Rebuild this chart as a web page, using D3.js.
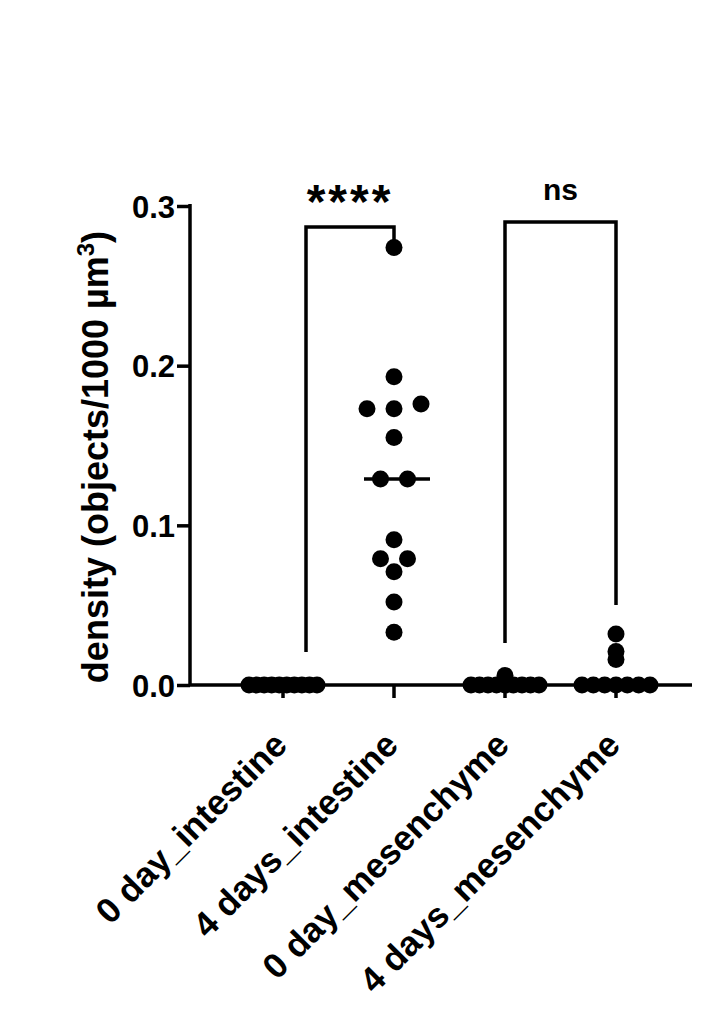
<!DOCTYPE html><html><head><script src="https://cdn.jsdelivr.net/npm/d3@7"></script>
<style>body{margin:0;background:#fff}text{font-family:Arial,"Liberation Sans",sans-serif;font-weight:bold}</style></head><body>
<svg id="c" width="718" height="1021"></svg>
<script>
const categories=["0 day_intestine","4 days_intestine","0 day_mesenchyme","4 days_mesenchyme"];
const g0=[0,0,0,0,0,0,0,0,0,0];
const g1=[0.274,0.193,0.173,0.173,0.176,0.155,0.129,0.129,0.091,0.079,0.079,0.071,0.052,0.033];
const g2=[0.006,0,0,0,0,0,0,0,0,0];
const g3=[0.032,0.021,0.016,0,0,0,0,0,0,0];
const series=[g0,g1,g2,g3];
const medians=[0,0.129,0,0];
const yTicks=[0,0.1,0.2,0.3];
const sig=[["****",0,1],["ns",2,3]];

const svg=d3.select("#c");
const y=d3.scaleLinear().domain([0,0.3]).range([685,206]);
const x=d3.scaleBand().domain(categories).range([227.5,671.5]);
const cx=c=>x(c)+x.bandwidth()/2;
const r=8.5;
const ya=svg.append("g").attr("transform","translate(190,0)").call(d3.axisLeft(y).tickValues(yTicks).tickFormat(d3.format(".1f")).tickSize(13).tickSizeOuter(0));
ya.select(".domain").attr("stroke-width",3.5).attr("d","M0,685V204");
ya.selectAll(".tick line").attr("stroke-width",3.5);
ya.selectAll(".tick text").attr("font-size",31).attr("font-family","Arial").attr("font-weight","bold").attr("x",-15).attr("dy","0.36em").attr("fill","#000");
const xa=svg.append("g").attr("transform","translate(0,685)").call(d3.axisBottom(x).tickSize(13).tickSizeOuter(0));
xa.select(".domain").attr("stroke-width",3.5).attr("d","M190,0H692");
xa.selectAll(".tick line").attr("stroke-width",3.5);
xa.selectAll(".tick text").attr("font-size",35).attr("font-family","Arial").attr("font-weight","bold").attr("fill","#000")
 .attr("text-anchor","end").attr("dy",0).attr("y",0).attr("transform","translate(6,62) rotate(-45)");
svg.append("text").attr("transform","translate(108,457) rotate(-90)").attr("text-anchor","middle").attr("font-size",36)
 .html('density (objects/1000 µm<tspan dy="-14" font-size="24">3</tspan><tspan dy="14">)</tspan>');
series.forEach((vals,i)=>{
  const c=categories[i];
  const bins=d3.groups(vals.map(v=>({v,py:y(v)})),d=>Math.round(d.py/(2*r-2)));
  bins.forEach(([k,pts])=>{
    const n=pts.length;const sp=n<=3?27:68/(n-1);
    pts.forEach((p,j)=>{
      svg.append("circle").attr("cx",cx(c)+(j-(n-1)/2)*sp).attr("cy",p.py).attr("r",r).attr("fill","#000");
    });
  });
  if(medians[i]>0) svg.append("line").attr("x1",cx(c)-30).attr("x2",cx(c)+36).attr("y1",y(medians[i])).attr("y2",y(medians[i])).attr("stroke","#000").attr("stroke-width",3.5);
});
const bk=[[306,cx(categories[1]),227,652,240],[cx(categories[2]),cx(categories[3]),222,643,605]];
sig.forEach((s,i)=>{
  const [x1,x2,top,l,rr]=bk[i];
  svg.append("path").attr("d",`M${x1},${l}V${top}H${x2}V${rr}`).attr("fill","none").attr("stroke","#000").attr("stroke-width",3.5);
  svg.append("text").attr("x",(x1+x2)/2).attr("y",i==0?218:200).attr("text-anchor","middle").attr("font-size",i==0?48:30).attr("font-weight",i==0?"bold":"normal").attr("letter-spacing",i==0?3:0).text(s[0]);
});
</script></body></html>
